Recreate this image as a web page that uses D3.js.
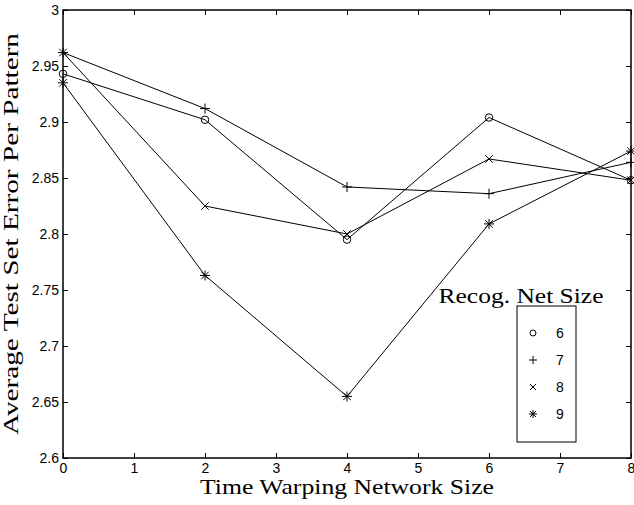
<!DOCTYPE html>
<html>
<head>
<meta charset="utf-8">
<script src="https://d3js.org/d3.v7.min.js"></script>
<style>
  body { margin: 0; background: #fff; }
  .tick text { font-family: "Liberation Sans", Arial, sans-serif; font-size: 14px; fill: #000; }
  .title { font-family: "Liberation Serif", "Times New Roman", serif; font-size: 21px; fill: #000; }
</style>
</head>
<body>
<div class="chart"></div>
<script>
// data
const netSizes = [0, 2, 4, 6, 8];
const series6 = [2.943, 2.902, 2.795, 2.904, 2.848];
const series7 = [2.962, 2.912, 2.842, 2.836, 2.864];
const series8 = [2.962, 2.825, 2.800, 2.867, 2.848];
const series9 = [2.935, 2.763, 2.655, 2.809, 2.874];
const recogSizes = ["6", "7", "8", "9"];
const xTicks = [0, 1, 2, 3, 4, 5, 6, 7, 8];
const yTicks = [2.6, 2.65, 2.7, 2.75, 2.8, 2.85, 2.9, 2.95, 3];

const width = 634, height = 505;
const m = {left: 63, right: 3, top: 10, bottom: 47};

const svg = d3.select('.chart').append('svg')
    .attr('width', width)
    .attr('height', height);

const x = d3.scaleLinear().domain([0, 8]).range([m.left, width - m.right]);
const y = d3.scaleLinear().domain([2.6, 3]).range([height - m.bottom, m.top]);

// axes, ticks pointing inward
svg.append('g')
    .attr('transform', `translate(0,${height - m.bottom})`)
    .call(d3.axisBottom(x).tickValues(xTicks).tickSize(-5).tickPadding(5).tickFormat(d3.format('d')));
svg.append('g')
    .attr('transform', `translate(0,${m.top})`)
    .call(d3.axisTop(x).tickValues(xTicks).tickSize(-5).tickFormat(''));
svg.append('g')
    .attr('transform', `translate(${m.left},0)`)
    .call(d3.axisLeft(y).tickValues(yTicks).tickSize(-5).tickPadding(4).tickFormat(d => d3.format('')(+d.toFixed(2))));
svg.append('g')
    .attr('transform', `translate(${width - m.right},0)`)
    .call(d3.axisRight(y).tickValues(yTicks).tickSize(-5).tickFormat(''));

svg.selectAll('.domain').remove();
svg.selectAll('.tick line').attr('stroke', '#000').attr('stroke-width', 1);

svg.append('rect')
    .attr('x', m.left).attr('y', m.top)
    .attr('width', width - m.left - m.right)
    .attr('height', height - m.top - m.bottom)
    .attr('fill', 'none').attr('stroke', '#000').attr('stroke-width', 1.5);

// marker shapes
function marker(g, kind, s) {
    if (kind == 'o') {
        g.append('circle').attr('r', s * 0.75).attr('fill', 'none').attr('stroke', '#000');
    }
    if (kind == '+' || kind == '*') {
        g.append('path').attr('d', `M${-s},0H${s}M0,${-s}V${s}`).attr('stroke', '#000');
    }
    if (kind == 'x' || kind == '*') {
        const k = s * 0.75;
        g.append('path').attr('d', `M${-k},${-k}L${k},${k}M${-k},${k}L${k},${-k}`).attr('stroke', '#000');
    }
}

const allSeries = [
    {name: '6', kind: 'o', values: series6},
    {name: '7', kind: '+', values: series7},
    {name: '8', kind: 'x', values: series8},
    {name: '9', kind: '*', values: series9},
];

const line = d3.line().x((d, i) => x(netSizes[i])).y(d => y(d));

allSeries.forEach(s => {
    svg.append('path')
        .attr('d', line(s.values))
        .attr('fill', 'none')
        .attr('stroke', '#000')
        .attr('stroke-width', 1);
    s.values.forEach((v, i) => {
        const g = svg.append('g').attr('transform', `translate(${x(netSizes[i])},${y(v)})`);
        marker(g, s.kind, 5);
    });
});

// axis titles (glyphs widened to the width of the original serif face)
svg.append('text').attr('class', 'title')
    .attr('x', (m.left + width - m.right) / 2)
    .attr('y', 494)
    .attr('text-anchor', 'middle')
    .attr('textLength', 294)
    .attr('lengthAdjust', 'spacingAndGlyphs')
    .text('Time Warping Network Size');
svg.append('text').attr('class', 'title')
    .attr('transform', `translate(18,${(m.top + height - m.bottom) / 2}) rotate(-90)`)
    .attr('text-anchor', 'middle')
    .attr('textLength', 402)
    .attr('lengthAdjust', 'spacingAndGlyphs')
    .text('Average Test Set Error Per Pattern');

// legend
svg.append('rect')
    .attr('x', 517).attr('y', 306)
    .attr('width', 59).attr('height', 136)
    .attr('fill', '#fff').attr('stroke', '#000').attr('stroke-width', 1);
svg.append('text').attr('class', 'title')
    .attr('x', 521).attr('y', 303)
    .attr('text-anchor', 'middle')
    .attr('textLength', 165)
    .attr('lengthAdjust', 'spacingAndGlyphs')
    .text('Recog. Net Size');
allSeries.forEach((s, i) => {
    const ly = 333 + i * 27;
    const g = svg.append('g').attr('transform', `translate(533,${ly})`);
    marker(g, s.kind, 4);
    svg.append('text')
        .attr('x', 556).attr('y', ly + 5)
        .attr('font-family', '"Liberation Sans", Arial, sans-serif')
        .attr('font-size', 14)
        .text(recogSizes[i]);
});
</script>
</body>
</html>
